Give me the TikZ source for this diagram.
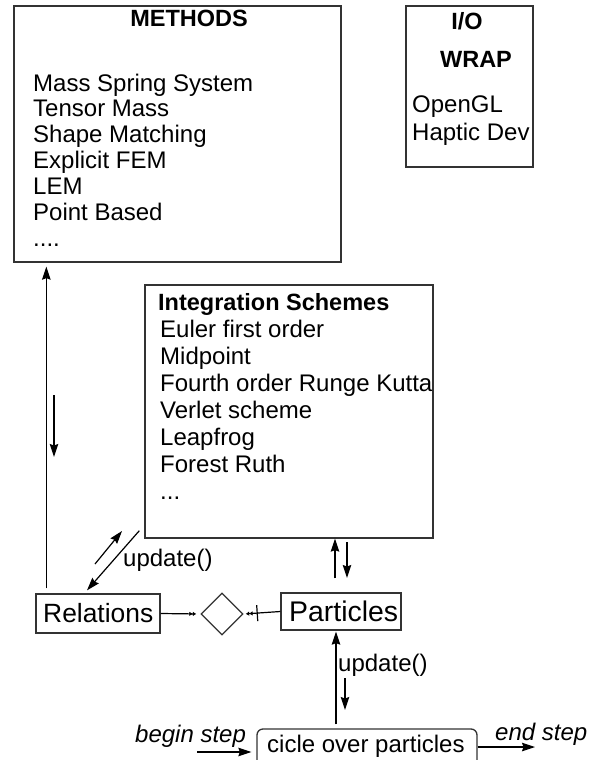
\documentclass[tikz,border=0pt]{standalone}
\usepackage{fontspec}
\setmainfont{Liberation Sans}
\usetikzlibrary{arrows.meta,shapes.geometric}
\begin{document}
\begin{tikzpicture}[x=1pt,y=-1pt,
  box/.style={draw=black!80, line width=1.3pt, inner sep=0pt, rectangle},
  txt/.style={inner sep=0pt, anchor=base west, font=\fontsize{24}{28}\selectfont},
  ttl/.style={inner sep=0pt, anchor=base, font=\fontsize{23.5}{28}\selectfont\bfseries},
  ttlw/.style={inner sep=0pt, anchor=base west, font=\fontsize{23.5}{28}\selectfont\bfseries},
  itx/.style={inner sep=0pt, anchor=base west, font=\fontsize{24}{28}\selectfont\itshape},
  arr/.style={line width=1.2pt, -{Stealth[length=13pt,width=8.5pt,inset=1.5pt]}},
  small/.style={line width=1.2pt}]
\useasboundingbox (0,0) rectangle (595,760);

% boxes
\node[box, minimum width=327pt, minimum height=256pt] (methods) at (177.5,134) {};
\node[box, minimum width=127pt, minimum height=161pt] (io) at (469.5,86.5) {};
\node[box, minimum width=288pt, minimum height=253pt] (integ) at (289,411.5) {};
\node[box, minimum width=124pt, minimum height=39pt] (relations) at (98,613.5) {};
\node[box, minimum width=120pt, minimum height=37pt] (particles) at (341,611.5) {};
\node[draw=black!80, line width=1.3pt, diamond, inner sep=0pt, minimum width=42pt, minimum height=42pt] (dia) at (222,614) {};
\node[box, rounded corners=6pt, minimum width=220pt, minimum height=46pt] (cicle) at (367,752) {};

% METHODS texts
\node[ttl] (mt) at (189,27) {METHODS};
\foreach \t [count=\i] in {Mass Spring System, Tensor Mass, Shape Matching, Explicit FEM, LEM, Point Based}
  \node[txt] (m\i) at (33,{91+25.9*(\i-1)}) {\t};
\node[txt] (m7) at (33,246.4) {....};

% I/O texts
\node[ttl] (iot) at (467,30) {I/O};
\node[ttl] (wrap) at (476,67) {WRAP};
\node[txt] (ogl) at (412,112) {OpenGL};
\node[txt] (hap) at (412,140) {Haptic Dev};

% Integration texts
\node[ttlw] (it) at (158,310) {Integration Schemes};
\foreach \t [count=\i] in {Euler first order, Midpoint, Fourth order Runge Kutta, Verlet scheme, Leapfrog, Forest Ruth}
  \node[txt] (s\i) at (160,{337+27*(\i-1)}) {\t};
\node[txt] (s7) at (160,499) {...};

% small box labels
\node[inner sep=0pt, anchor=base west, font=\fontsize{26.4}{30}\selectfont] (rt) at (43,622) {Relations};
\node[inner sep=0pt, anchor=base west, font=\fontsize{28.4}{32}\selectfont] (pt) at (289,621) {Particles};
\node[txt] (ct) at (267,752) {cicle over particles};

\node[txt] (up1) at (123,566) {update()};
\node[txt] (up2) at (338,671) {update()};
\node[itx] (bs) at (135,742) {begin step};
\node[itx] (es) at (495,740) {end step};

% free coordinates
\coordinate (d1s) at (54,395);
\coordinate (d1e) at (54,457);
\coordinate (u1s) at (95,564);
\coordinate (u1e) at (122,531);
\coordinate (d2s) at (347,542);
\coordinate (d2e) at (347,578);
\coordinate (d3s) at (345,678);
\coordinate (d3e) at (345,710);
\coordinate (bss) at (197,752);
\coordinate (ese) at (535,747);

% connectors
\draw[arr] ([xshift=11pt,yshift=5pt]relations.north west) -- ([xshift=33pt,yshift=-4pt]methods.south west);
\draw[arr] (d1s) -- (d1e);
\draw[arr] (u1s) -- (u1e);
\draw[arr] ([xshift=-5pt,yshift=8pt]integ.south west) -- ([xshift=-11pt,yshift=3pt]relations.north);
\draw[arr] ([xshift=-6pt,yshift=14pt]particles.north) -- ([xshift=46pt]integ.south);
\draw[arr] (d2s) -- (d2e);
\draw[arr] ([xshift=-31pt,yshift=4pt]cicle.north) -- ([xshift=-5pt,yshift=-1pt]particles.south);
\draw[arr] (d3s) -- (d3e);
\draw[arr] (bss) -- ([xshift=-5pt]cicle.west);
\draw[arr] ([yshift=5pt]cicle.east) -- (ese);

\draw[small, -{Latex[length=3.5pt,width=4.5pt]Latex[length=3.5pt,width=4.5pt]}, shorten >=4pt] (relations.east) -- (dia.west);
\draw[small, -{Bar[width=16pt,sep=4pt]Latex[length=3.5pt,width=4.5pt]Latex[length=3.5pt,width=4.5pt]}, shorten >=2pt] (particles.west) -- (dia.east);
\end{tikzpicture}
\end{document}
